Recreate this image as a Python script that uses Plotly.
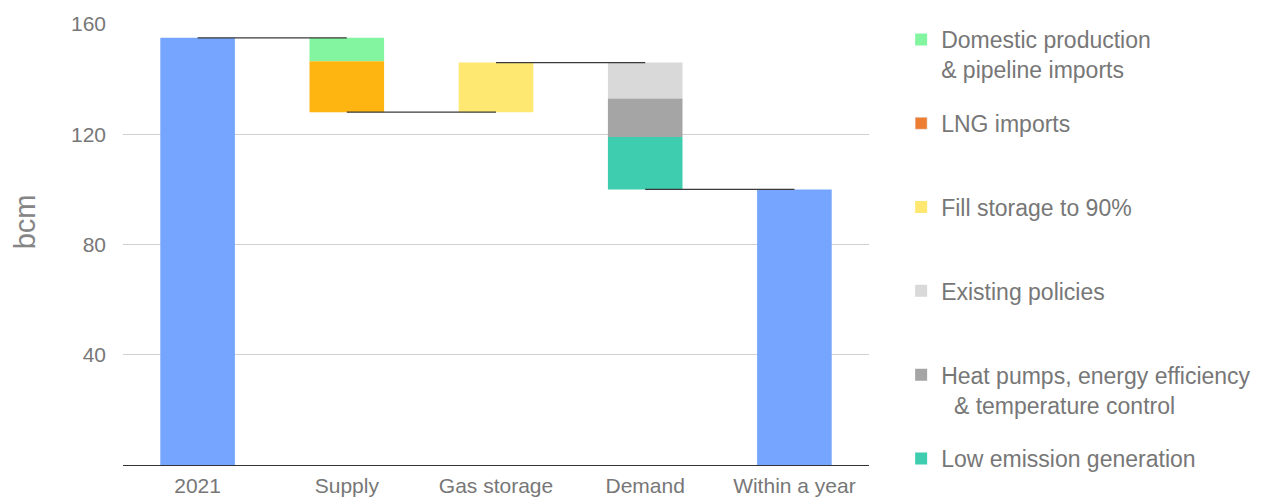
import plotly.graph_objects as go

categories = ["2021", "Supply", "Gas storage", "Demand", "Within a year"]
start_2021 = 155
domestic_pipeline = 8.5
lng_imports = 18.5
fill_storage = 18
existing_policies = 13
heat_pumps = 14
low_emission = 19
within_year = 100

legend_names = [
    "Domestic production<br>& pipeline imports",
    "LNG imports<br> ",
    "Fill storage to 90%<br> ",
    "Existing policies<br> ",
    "Heat pumps, energy efficiency<br>  & temperature control",
    "Low emission generation",
]
y_title = "bcm"

BLUE = "#76A5FF"
GREEN = "#83F5A0"
AMBER = "#FFB511"
LNG_LEG = "#ED7D31"
YELLOW = "#FFE872"
LGREY = "#D9D9D9"
DGREY = "#A5A5A5"
TEAL = "#3ECDAF"

# derived levels
after_supply = start_2021 - domestic_pipeline - lng_imports
after_storage = after_supply + fill_storage
after_existing = after_storage - existing_policies
after_heat = after_existing - heat_pumps
after_demand = after_heat - low_emission

W = 0.5
fig = go.Figure()

def bar(cat, base, h, color, name=None, show=False, group=None):
    fig.add_trace(go.Bar(x=[cat], y=[h], base=[base], width=W, marker_color=color,
                         marker_line_width=0, name=name or "", showlegend=show,
                         legendgroup=group, hoverinfo="skip"))

bar(categories[0], 0, start_2021, BLUE, group="b0")
bar(categories[1], after_supply + lng_imports, domestic_pipeline, GREEN, legend_names[0], True, "g0")
bar(categories[1], after_supply, lng_imports, AMBER, group="g1x")
# legend entry for LNG with its own swatch colour
fig.add_trace(go.Bar(x=[None], y=[None], marker_color=LNG_LEG, name=legend_names[1],
                     showlegend=True, legendgroup="g1"))
bar(categories[2], after_supply, fill_storage, YELLOW, legend_names[2], True, "g2")
bar(categories[3], after_existing, existing_policies, LGREY, legend_names[3], True, "g3")
bar(categories[3], after_heat, heat_pumps, DGREY, legend_names[4], True, "g4")
bar(categories[3], after_demand, low_emission, TEAL, legend_names[5], True, "g5")
bar(categories[4], 0, within_year, BLUE, group="b4")

# connectors between category centres
levels = [start_2021, after_supply, after_storage, after_demand]
for i, lv in enumerate(levels):
    fig.add_shape(type="line", xref="x", yref="y", x0=i, x1=i + 1, y0=lv, y1=lv,
                  line=dict(color="#3a3a3a", width=1.3))

# y-axis title placed as rotated text left of the tick labels
fig.add_annotation(text=y_title, xref="paper", yref="paper", x=-0.131, y=0.551,
                   xanchor="center", yanchor="middle", textangle=-90, showarrow=False,
                   font=dict(size=29, color="#858585"))

# page body adds an 8px offset, so the figure is sized/margined to compensate
fig.update_layout(
    width=1264, height=490,
    barmode="overlay",
    plot_bgcolor="white", paper_bgcolor="white",
    margin=dict(l=115, r=403, t=16, b=33),
    font=dict(family="Liberation Sans, Arial, sans-serif", color="#777777"),
    legend=dict(xref="container", yref="container", x=0.7066, xanchor="left",
                y=0.9796, yanchor="top", valign="top",
                font=dict(size=23, color="#777777"), tracegroupgap=21,
                traceorder="grouped", itemwidth=30, bgcolor="rgba(0,0,0,0)",
                maxheight=489),
    showlegend=True,
)
fig.update_xaxes(showgrid=False, showline=True, linecolor="#333333", linewidth=1,
                 tickfont=dict(size=21, color="#777777"), automargin=False,
                 ticklabelstandoff=2,
                 ticks="", categoryorder="array", categoryarray=categories)
fig.update_yaxes(range=[0, 160], tickvals=[40, 80, 120, 160], showgrid=True,
                 gridcolor="#D0D0D0", gridwidth=1, zeroline=False, showline=False,
                 tickfont=dict(size=21, color="#777777"), ticklabelstandoff=16,
                 automargin=False)

fig.write_html("out.html")
